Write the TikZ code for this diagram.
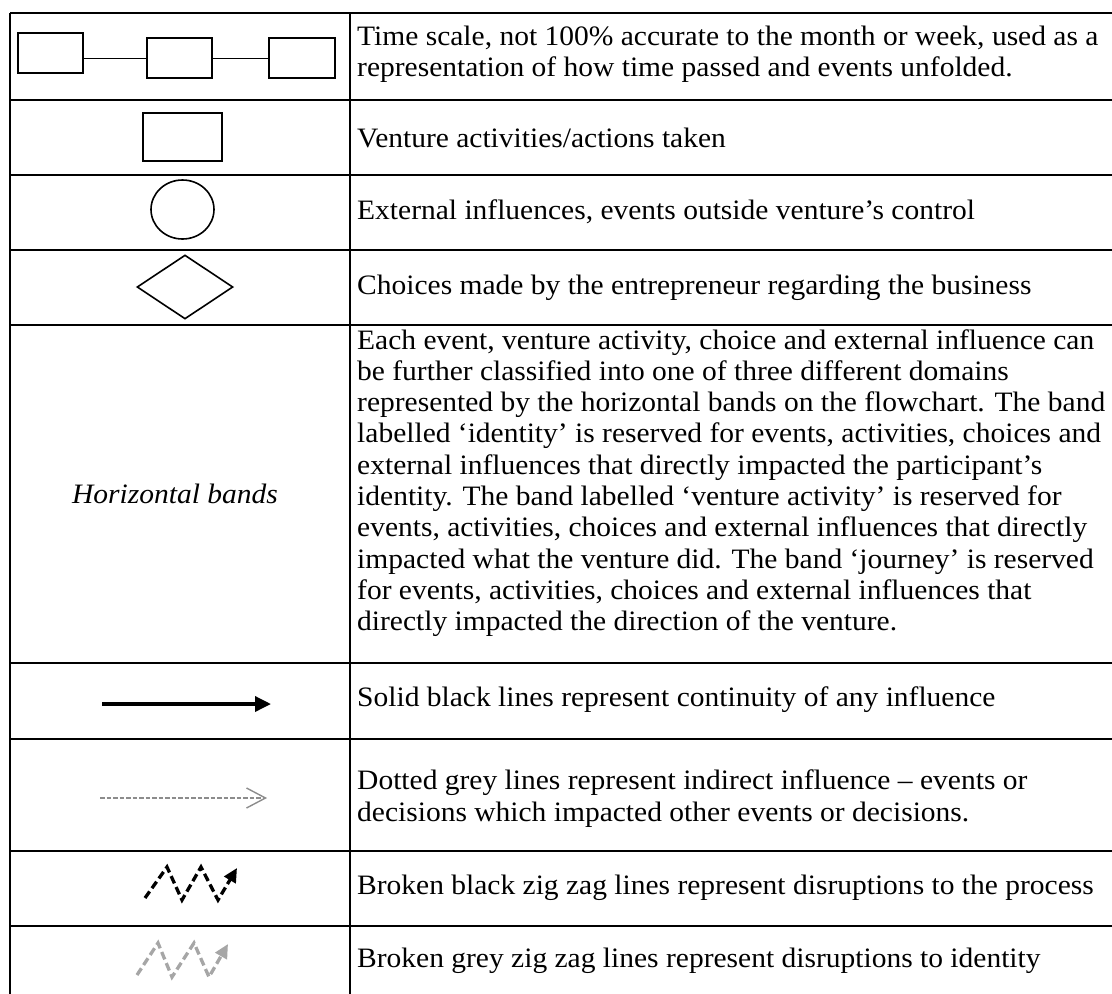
\documentclass[tikz,border=0pt]{standalone}
\usepackage{fontspec}
\setmainfont[FakeStretch=1.05]{Liberation Serif}
\usetikzlibrary{arrows.meta,shapes.geometric}
\definecolor{midgrey}{HTML}{8C8C8C}
\definecolor{lightgrey}{HTML}{A6A6A6}
\begin{document}
\begin{tikzpicture}[x=1pt,y=-1pt,
  rule/.style={line width=1.6pt},
  txt/.style={anchor=west,inner sep=0pt,align=left,
    font=\fontsize{28.1}{31.3}\selectfont},
  tbox/.style={draw,rectangle,line width=2.2pt,inner sep=0pt,
    minimum height=40pt},
  actbox/.style={draw,rectangle,line width=1.6pt,inner sep=0pt,
    minimum width=79pt,minimum height=48pt},
  extcirc/.style={draw,ellipse,line width=1.6pt,inner sep=0pt,
    minimum width=63pt,minimum height=59pt},
  choice/.style={draw,diamond,line width=1.6pt,inner sep=0pt,
    minimum width=96pt,minimum height=64pt},
  zig/.style={line width=3.3pt,dash pattern=on 8pt off 4pt,
    -{Triangle[length=14pt,width=13pt]}}]
\useasboundingbox (0,0) rectangle (1112,994);

% table rules
\foreach \yy in {13,100,175,250,325,663,739,851,926}
  \draw[rule] (10,\yy) -- (1112,\yy);
\draw[rule] (10,13) -- (10,994);
\draw[rule] (350,13) -- (350,994);

% time scale
\node[tbox,minimum width=65pt] (t1) at (50.5,53.3) {};
\node[tbox,minimum width=65pt] (t2) at (179.5,58.3) {};
\node[tbox,minimum width=66pt] (t3) at (302,58.3) {};
\draw[line width=1pt] (t1.east |- t2.center) -- (t2.west);
\draw[line width=1pt] (t2.east) -- (t3.west);

% activity, influence, choice symbols
\node[actbox] (act) at (182.5,137) {};
\node[extcirc] (ext) at (182.5,209.5) {};
\node[choice] (cho) at (185,287) {};

% band label
\node[txt,anchor=center,font=\fontsize{28.1}{31.3}\selectfont\itshape] (hb) at (175,494) {Horizontal bands};

% solid arrow
\coordinate (sa) at (102,704);
\coordinate (sb) at (271,704);
\draw[line width=3.5pt,-{Triangle[length=16pt,width=15pt]}] (sa) -- (sb);

% dotted grey arrow
\coordinate (da) at (100,798);
\coordinate (db) at (267,798);
\draw[midgrey,line width=1.4pt,dash pattern=on 4.5pt off 2pt,
  -{Straight Barb[length=19pt,width=20pt,line width=1.4pt]}] (da) -- (db);

% black zig zag
\coordinate (k0) at (145,898);
\coordinate (k1) at (167,867);
\coordinate (k2) at (182,900);
\coordinate (k3) at (201,867);
\coordinate (k4) at (218,900);
\coordinate (k5) at (237,868);
\draw[zig] (k0) -- (k1) -- (k2) -- (k3) -- (k4) -- (k5);

% grey zig zag
\coordinate (g0) at (137,975);
\coordinate (g1) at (158,943);
\coordinate (g2) at (172,977);
\coordinate (g3) at (194,943);
\coordinate (g4) at (209,977);
\coordinate (g5) at (228,944);
\draw[zig,lightgrey] (g0) -- (g1) -- (g2) -- (g3) -- (g4) -- (g5);

% descriptions
\node[txt] (d1) at (357,54) {Time scale, not 100\% accurate to the month or week, used as a\\representation of how time passed and events unfolded.};
\node[txt] (d2) at (357,138) {Venture activities/actions taken};
\node[txt] (d3) at (357,212) {External influences, events outside venture’s control};
\node[txt] (d4) at (357,288) {Choices made by the entrepreneur regarding the business};
\node[txt] (d5) at (357,483) {Each event, venture activity, choice and external influence can\\
be further classified into one of three different domains\\
represented by the horizontal bands on the flowchart. The band\\
labelled ‘identity’ is reserved for events, activities, choices and\\
external influences that directly impacted the participant’s\\
identity. The band labelled ‘venture activity’ is reserved for\\
events, activities, choices and external influences that directly\\
impacted what the venture did. The band ‘journey’ is reserved\\
for events, activities, choices and external influences that\\
directly impacted the direction of the venture.};
\node[txt] (d6) at (357,700) {Solid black lines represent continuity of any influence};
\node[txt] (d7) at (357,798.5) {Dotted grey lines represent indirect influence – events or\\decisions which impacted other events or decisions.};
\node[txt] (d8) at (357,888) {Broken black zig zag lines represent disruptions to the process};
\node[txt] (d9) at (357,961) {Broken grey zig zag lines represent disruptions to identity};
\end{tikzpicture}
\end{document}
